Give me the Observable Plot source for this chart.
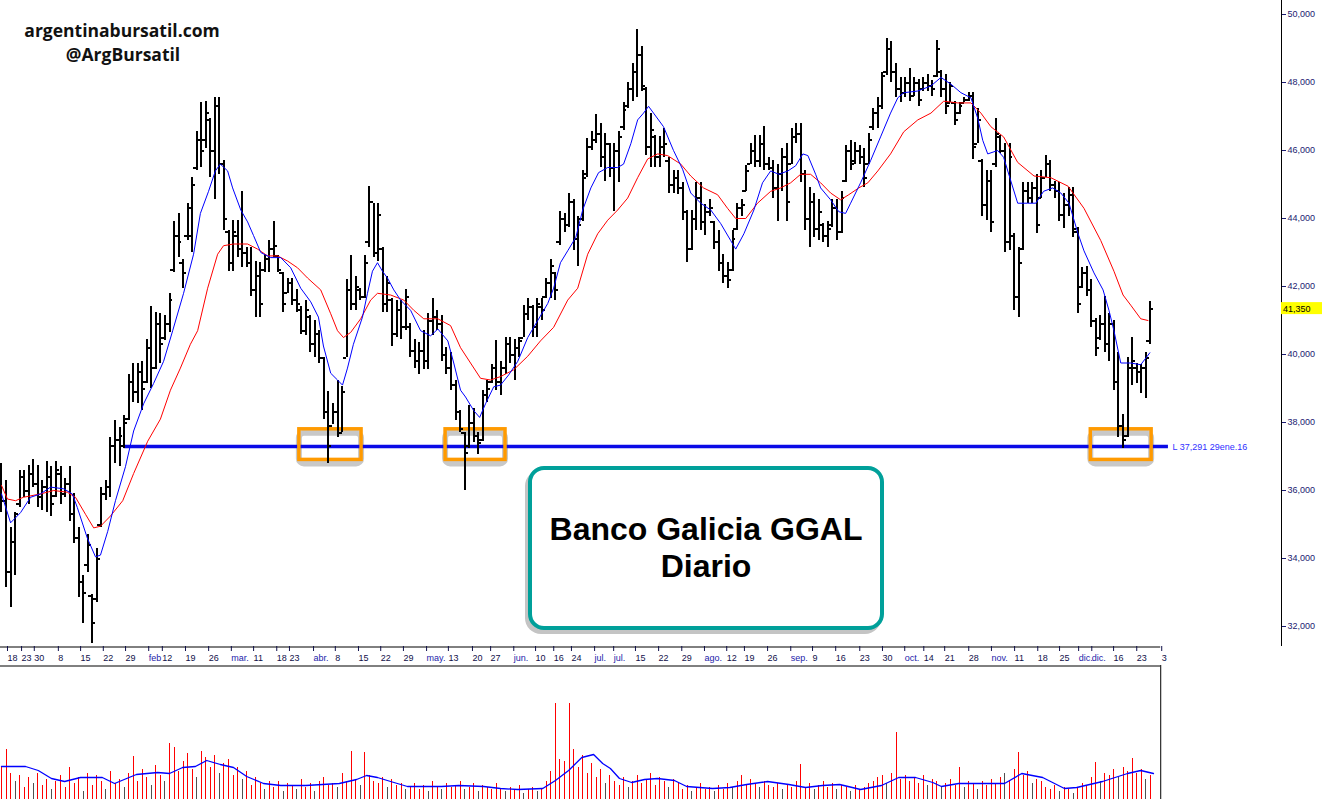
<!DOCTYPE html>
<html><head><meta charset="utf-8">
<script src="https://cdn.jsdelivr.net/npm/d3@7"></script>
<script src="https://cdn.jsdelivr.net/npm/@observablehq/plot@0.6"></script>
<style>
body{margin:0;background:#fff;}
#wrap{position:relative;width:1322px;height:799px;overflow:hidden;}
#price,#vol{line-height:0}
.wm{position:absolute;font-family:"Open Sans",sans-serif;font-weight:700;color:#111;font-size:17.5px;white-space:nowrap;transform:translate(-50%,-50%);line-height:1}
#wm1{left:122px;top:31px}
#wm2{left:123px;top:55px}
#tbox{position:absolute;left:528px;top:466px;width:356px;height:164px;box-sizing:border-box;border:4px solid #00a09a;border-radius:16px;background:#fff;box-shadow:-3px 4px 0 #c4c4c4;display:flex;flex-direction:column;justify-content:center;align-items:center;font-family:"Liberation Sans",Arial,sans-serif;font-weight:700;font-size:32px;line-height:37px;color:#000;}
</style></head><body>
<div id="wrap"><div id="price"></div><div id="vol"></div>
<div class="wm" id="wm1">argentinabursatil.com</div><div class="wm" id="wm2">@ArgBursatil</div>
<div id="tbox"><div>Banco Galicia GGAL</div><div>Diario</div></div></div>
<script>
// ---- daily OHLC (bar index 0..253) ----
const highs = [
36800,36300,34900,35350,36600,36600,36750,36900,36750,36300,
36850,36700,36850,36700,36350,36700,35900,34900,33500,34700,
32950,34300,36100,36300,37550,38050,37850,38200,39400,39750,
39750,39800,40450,41400,41250,41200,41150,41800,43900,44150,
42800,44450,45200,46550,47400,47450,46950,47550,47550,45700,
43650,43950,43950,44800,43150,43150,42750,42700,42950,43350,
43900,42900,42400,42250,42250,41900,
41400,41600,41150,41000,40700,39900,38900,38550,39250,39050,
42200,42900,42300,41950,42900,44950,44450,44450,43150,42300,
41650,41600,41600,41900,40900,40450,40350,40700,41200,41650,
41300,41150,40200,40050,39250,38350,37700,38500,
38400,37700,38950,39250,39700,40400,39800,40500,40500,40450,
40500,41450,41650,41450,41650,41650,42250,42800,42400,44200,
44150,44750,44550,44050,45400,46350,46550,47050,46800,46500,
46200,46200,46550,47400,48000,48550,49550,49050,47850,47100,
46450,46400,46650,45800,45400,45400,45050,44250,44250,45050,
45050,44400,44550,43900,43650,42950,42700,43650,44450,44550,
45550,46200,46450,46450,46700,45800,45700,45600,46050,46200,
46650,46800,46800,45400,44900,44750,44550,43850,43900,44550,
44550,44800,46150,46300,46250,46150,46050,46500,47250,47550,
48300,49300,49200,48550,48150,48150,48400,48150,48100,48150,
48250,48050,49250,48350,48250,48000,47450,47400,47550,47700,
47700,47250,45750,45400,45400,46950,46450,46200,46200,43550,
43150,45050,45050,45050,45300,45400,45850,45700,45100,45050,
44750,44900,44900,43750,42550,42600,42200,41050,41150,41700,
41200,41000,40050,38250,39900,40500,39750,39700,40050,41550];
const lows = [
35350,33150,32550,33500,35500,35800,35600,36100,35500,35400,
35350,35250,35800,35600,35800,35100,34450,32850,32100,33600,
31500,32700,34900,35700,35800,36800,36700,37250,38050,38600,
38550,38350,39150,39000,39550,39750,40400,40650,42400,42850,
41950,43350,43000,45400,45500,46050,45200,44550,45300,43650,
42450,42450,42850,42550,42550,41700,41100,41100,42400,42400,
42850,42400,41250,41800,41450,41250,
40600,40550,40050,39900,39750,38100,36800,37950,37550,37700,
39900,41300,41300,41600,41650,43150,42850,42750,41250,41250,
40250,40500,40450,40700,39900,39600,39400,39550,39550,40550,
40700,39800,39400,38950,38050,37700,36000,37250,
37400,37050,37450,38600,39150,38950,38800,39400,39750,39250,
39900,40500,41000,40500,40500,41000,41650,41650,41600,43200,
43600,43750,43050,42600,43900,45200,46000,46200,45500,45100,
45200,44200,45050,46600,47250,47450,47550,47750,45850,45500,
45500,45500,45800,44750,44750,44700,43950,42700,43050,43650,
43650,43500,44050,43100,42450,42100,41950,42450,43650,44050,
44800,45600,45500,45500,45400,45400,44600,43900,44800,43900,
45600,46200,45050,43650,43150,43450,43350,43300,43150,43750,
43350,43550,45050,45400,45600,45600,44900,45600,46600,46650,
47200,48200,48000,47550,47400,47550,47450,47600,47300,47750,
47750,47600,48150,47550,47050,47400,46750,47050,47400,47450,
45750,46200,44050,43950,43600,45500,45900,43000,43050,41300,
41100,43050,44450,44450,43550,44600,45200,44800,44600,43900,
43700,44050,43450,41200,41950,41700,40800,39950,40400,40050,
39800,38950,37550,37250,37550,39100,39150,38850,38700,40300];
const opens = [
36400,35700,33600,34500,35600,36400,36000,36500,36200,35800,
36100,36400,35850,36500,35900,36200,35300,34600,33300,33800,
32900,32800,35000,35900,36100,37300,37500,37300,38100,39200,
38900,39500,39200,40200,39600,40900,40500,40900,42500,43500,
42700,43500,43500,45500,46300,46300,46900,46000,47300,45600,
43600,42700,43500,43100,43000,42700,41900,42300,42500,42800,
43100,42900,42400,41800,42100,41600,
41300,40700,41100,40300,40600,39900,38300,37900,38300,37700,
39900,41900,41500,41900,41700,43300,44500,43000,43100,41500,
41600,40600,41300,40800,40800,40100,39800,40100,39800,41000,
41100,40900,40000,39600,39100,38300,37700,37300,
38000,37600,37500,38800,39200,39600,39200,39600,40300,40000,
40200,40500,41200,41400,40800,41400,41700,42100,42400,43300,
44000,43800,44500,43400,44000,45300,46100,46300,46500,45800,
46200,45500,46000,46700,47300,47800,48300,48800,47800,46100,
46400,45800,46100,45700,45000,45200,44900,44200,43100,44000,
44600,43900,44200,43900,43300,42700,42300,42500,43700,44300,
44800,45600,46000,45700,46200,45600,45500,44900,45300,45800,
45600,46400,46500,45300,44000,44500,43700,43800,43500,43800,
44300,43600,45100,46000,45700,46000,45800,45600,46700,47100,
47300,48300,49000,48300,47800,47700,48000,47600,48000,47800,
48000,47900,48200,48300,47800,47400,47400,47100,47400,47500,
47600,46200,45700,44400,45100,45600,46400,46000,43300,43500,
41700,43100,44800,44600,44900,44600,45200,45600,45000,44800,
44100,44400,44700,43600,42000,42400,41900,41000,40500,40900,
40300,40900,39200,37900,37600,39600,39600,39500,39600,40400];
const closes = [
35700,33600,34500,35300,36400,36000,36500,36200,35800,36100,
36400,35600,36600,35900,36200,35300,34600,33300,33000,34400,
32100,34000,35900,36100,37300,37500,37600,38000,39200,38900,
39500,39000,40200,39600,40900,40300,40900,41600,43500,43300,
42400,44300,45000,46300,46000,47100,46000,47300,45600,44000,
42700,43600,43100,43000,42700,41900,42300,41500,42800,43100,
43200,42500,41500,42100,41600,41500,
40700,41300,40300,40600,39900,38300,37300,38300,37700,38900,
41900,41500,42000,41700,42700,44500,43000,44100,41500,42100,
40600,41300,40800,41700,40100,39800,40100,39800,41000,41100,
40900,40000,39600,39100,38300,37800,37100,38000,
37600,37400,38800,39000,39600,39200,39600,40300,40000,40200,
40400,41200,41400,40800,41500,41300,42100,42600,41900,44000,
43800,44500,43400,43800,45200,46100,46300,46500,45800,46200,
45500,46000,46400,47200,47800,48300,48800,47900,46100,46600,
45800,46100,46200,45000,45200,44900,44200,43100,44000,44600,
43900,44200,44300,43300,42700,42300,42200,43400,44300,44400,
45400,46000,45700,46200,45600,45500,44900,45300,45800,44500,
46400,46500,45300,44000,44500,43700,44200,43500,43700,44300,
43600,44600,46000,45600,46000,45800,45200,46300,47100,47300,
48200,49000,48300,47800,47700,48000,47600,48000,47500,48000,
47900,47800,49000,47800,47300,47900,46900,47300,47500,47600,
46100,46900,44400,45100,43900,46500,46000,43300,45800,41700,
42700,44800,44600,44900,43800,45200,45600,45000,44800,44100,
44400,44700,43700,41500,42400,41900,41000,40200,40900,40300,
40900,39200,37900,37500,39600,39800,39500,39600,39900,41350];
// volume (millions) and bars shown dark
const volume = [
1.6,2.5,1.3,0.9,1.2,0.6,1.1,0.8,1.3,0.7,
1.0,0.5,0.9,1.2,0.6,1.6,0.8,1.1,0.4,1.3,
0.7,1.2,0.9,0.5,1.4,0.8,1.0,0.6,1.3,2.15,
0.9,1.5,1.1,0.7,1.7,1.2,0.9,2.8,2.6,1.4,
1.9,2.3,1.5,1.1,2.4,2.1,1.6,2.2,1.3,1.8,
2.0,1.2,1.6,1.0,1.4,0.7,1.1,0.8,0.5,0.9,
0.6,0.9,0.4,0.8,0.7,0.5,1.0,0.6,0.8,0.4,
0.9,1.1,0.7,0.8,0.6,1.3,0.9,2.4,1.0,0.7,
2.35,1.2,0.9,0.8,1.1,0.6,1.0,0.7,0.8,0.5,
0.6,0.8,0.5,0.7,0.4,0.9,0.6,0.5,0.8,0.6,
0.7,0.9,0.5,0.6,0.8,0.4,0.7,0.6,0.5,0.8,
0.5,0.4,0.6,0.5,0.7,0.3,0.5,0.6,0.4,0.5,
0.9,1.4,4.8,2.0,1.9,4.8,2.5,1.6,2.2,1.3,
1.8,1.1,1.5,0.8,1.2,0.9,0.7,1.1,0.6,0.9,
1.2,0.8,1.0,1.3,0.7,1.1,0.9,0.6,1.0,0.8,
0.5,0.7,0.4,0.6,0.8,0.5,0.6,0.4,0.7,0.5,
0.8,0.6,0.9,1.2,0.7,1.0,0.8,0.6,0.9,0.7,
0.6,0.8,0.5,0.7,0.6,0.9,1.75,0.6,0.8,0.5,
0.7,0.9,0.6,0.8,0.5,0.7,0.6,0.4,0.7,0.5,
0.6,0.8,0.9,1.1,1.2,0.8,1.3,3.35,1.0,1.2,
0.9,1.1,0.8,1.2,0.7,1.0,0.9,0.6,0.8,1.0,
0.7,1.6,0.6,0.9,0.8,0.5,0.9,0.7,1.0,0.8,
1.1,1.3,0.9,1.5,2.35,1.2,1.4,0.8,1.0,0.9,
0.6,0.5,0.7,0.4,0.6,0.5,0.3,0.6,0.8,0.7,
1.1,1.85,0.9,1.3,1.2,1.5,1.1,1.6,1.4,2.05,
1.3,1.5,1.0,1.2];
const darkVolumeBars = [3,7,11,18,23,27,33,36,43,48,53,58,62,65,69,74,79,85,89,94,97,102,105,111,115,118,133,138,147,152,157,161,167,172,179,184,187,195,204,207,212,215,221,227,233,236,242,246,252];
// moving averages: [bar index, value]
const fastMA = [[0,35900],[2.0,35050],[4.2,35350],[6.4,35800],[8.6,35900],[10.8,36100],[13.7,36050],[15.6,35900],[16.7,35500],[18.9,34600],[20.7,34050],[21.8,34100],[23.4,34800],[25.1,35700],[27.3,36700],[29.1,37750],[31.3,38550],[33.5,39150],[35.7,39800],[37.7,40700],[40.1,41800],[42.3,42950],[43.8,44150],[45.6,44800],[47.1,45400],[48.2,45600],[49.8,45400],[50.9,44900],[52.7,44250],[54.2,43900],[55.5,43500],[57.1,43000],[59.3,42850],[61.5,42850],[63.7,42550],[65.9,41950],[68.1,41550],[69.8,41100],[70.9,40250],[72.5,39450],[74.0,39250],[75.1,39100],[76.2,39600],[77.5,40300],[79.5,41100],[80.6,41800],[81.7,42450],[82.8,42700],[83.9,42450],[85.0,42250],[86.4,41900],[87.9,41600],[90.1,41300],[92.3,40700],[94.5,40550],[96.1,40750],[98.3,40400],[99.6,39750],[101.1,38950],[102.2,38750],[104.0,38350],[105.3,38150],[106.6,38550],[108.4,39050],[109.9,39100],[111.7,39400],[113.7,39800],[115.9,40500],[118.1,41000],[120.3,41500],[121.6,41950],[123.1,42700],[124.7,43050],[126.5,43450],[128.0,44250],[129.8,44900],[131.5,45350],[133.5,45500],[135.7,45500],[137.0,45600],[138.6,46200],[140.1,46900],[141.4,47100],[142.5,47300],[143.6,47100],[145.8,46700],[148.0,46000],[150.0,45450],[151.8,44750],[154.0,44450],[156.2,44250],[158.4,43850],[160.6,43350],[161.7,43100],[163.5,43550],[165.7,44250],[167.6,45050],[169.4,45400],[171.2,45300],[173.2,45400],[174.9,45550],[176.5,45900],[177.6,45850],[179.3,45300],[180.4,44900],[182.6,44550],[184.4,44200],[185.9,44150],[187.0,44450],[189.2,45050],[191.4,45700],[193.6,46400],[195.8,47100],[197.4,47550],[198.7,47700],[201.8,47750],[204.7,47900],[206.9,48150],[209.1,47950],[211.3,47700],[213.5,47550],[215.0,46950],[216.1,46300],[217.2,45900],[219.4,46000],[220.7,45800],[222.3,45100],[223.8,44450],[226.0,44450],[227.8,44450],[229.5,44800],[231.5,44900],[233.3,44750],[235.1,44450],[237.1,43550],[238.4,43050],[240.6,42400],[242.6,41900],[243.9,41300],[245.0,40700],[246.5,39750],[248.7,39750],[250.9,39700],[252.9,40050]];
const slowMA = [[0,36150],[1.3,35750],[3.1,35700],[4.8,35800],[8.6,35900],[11.5,36000],[14.5,35950],[16.3,35800],[18.5,35300],[20.3,34900],[21.8,34950],[24.0,35250],[26.7,35700],[29.1,36500],[32.2,37450],[35.0,38100],[37.2,38950],[39.4,39600],[41.6,40300],[43.2,40700],[45.4,41950],[47.6,42950],[48.9,43200],[51.1,43250],[54.2,43250],[56.4,43100],[58.6,42900],[60.8,42900],[63.0,42750],[65.2,42550],[67.4,42250],[70.3,41900],[72.5,41200],[74.0,40700],[75.3,40500],[76.9,40650],[79.1,41050],[81.3,41600],[82.8,41800],[85.7,41750],[88.6,41600],[90.8,41300],[93.0,41050],[96.1,41050],[98.9,40850],[101.1,40200],[103.3,39750],[105.5,39300],[107.7,39250],[109.9,39350],[112.8,39550],[115.9,39950],[118.7,40400],[121.6,40800],[124.7,41600],[126.9,41950],[129.1,42950],[131.3,43550],[133.5,43950],[135.7,44250],[137.9,44600],[140.1,45200],[142.3,45750],[144.5,45900],[146.7,45850],[149.6,45600],[151.8,45250],[154.6,44900],[157.7,44700],[159.9,44300],[161.7,44000],[163.9,44000],[166.5,44450],[169.4,44800],[171.6,44900],[173.8,45050],[176.0,45300],[178.2,45300],[180.4,45050],[182.6,44750],[184.8,44550],[186.6,44700],[188.8,44900],[190.8,45050],[193.0,45400],[195.8,45900],[198.7,46550],[201.8,46900],[204.7,47100],[207.5,47450],[210.6,47400],[213.5,47400],[215.7,47100],[217.9,46700],[220.7,46400],[223.8,45650],[227.4,45250],[231.1,45200],[234.9,44950],[238.4,44300],[242.1,43350],[245.0,42450],[247.0,41750],[248.7,41450],[250.9,41050],[252.5,41000]];
const volumeMA = [[0,1.65],[5.3,1.65],[8.1,1.45],[11.0,1.05],[13.9,0.9],[17.4,1.1],[22.2,1.1],[24.9,0.8],[29.7,1.25],[34.4,1.35],[37.0,1.3],[39.9,1.6],[42.7,1.65],[45.2,1.95],[48.2,1.75],[51.1,1.6],[54.0,1.15],[57.7,0.8],[61.5,0.7],[67.0,0.7],[70.7,0.75],[74.4,0.8],[78.2,1.0],[80.4,1.2],[82.8,1.1],[85.7,0.9],[89.4,0.65],[96.9,0.65],[100.7,0.7],[106.2,0.65],[109.9,0.55],[113.7,0.5],[119.2,0.55],[122.0,0.95],[124.9,1.45],[127.8,2.1],[130.4,2.25],[132.4,1.8],[134.1,1.55],[136.1,1.05],[138.8,0.85],[141.6,1.0],[144.5,1.05],[148.2,0.95],[150.9,0.65],[156.6,0.55],[160.4,0.6],[164.1,0.75],[168.7,0.9],[173.4,0.75],[177.1,0.6],[180.8,0.7],[184.6,0.75],[189.2,0.5],[193.8,0.7],[197.6,1.1],[201.3,1.1],[205.1,0.85],[207.0,0.65],[210.8,0.8],[216.3,0.8],[220.9,0.8],[224.7,1.3],[229.3,1.1],[234.1,0.55],[236.8,0.6],[242.5,0.9],[248.0,1.3],[250.9,1.45],[253.7,1.3]];
// x-axis tick labels (position in bar index)
const tickPos = [1.1,4.2,7.0,12.3,17.2,22.2,27.1,32.2,35.2,40.3,45.4,50.4,55.3,60.4,63.2,68.5,73.3,78.4,83.3,88.3,93.4,98.2,103.5,107.5,112.6,117.4,121.4,125.3,130.4,134.6,139.4,144.5,149.6,154.6,159.5,163.4,168.5,173.6,178.4,183.5,188.8,193.8,198.7,202.9,207.5,212.8,217.8,222.9,228.0,232.8,237.0,239.9,244.7,249.8,255.3];
const tickLabels = ["18","23","30","8","15","22","29","feb","12","19","26","mar.","11","18","23","abr.","8","15","22","29","may.","13","20","27","jun.","10","16","24","jul.","jul.","15","22","29","ago.","12","19","26","sep.","9","16","23","30","oct.","14","21","28","nov.","11","18","25","dic.","dic.","16","23","3"];
const yTicks = [32000,34000,36000,38000,40000,42000,44000,46000,48000,50000];
// support line and highlighted zones
const support = 37291;
const supportFrom = 27;
const supportLabel = "L 37,291 29ene.16";
const boxStart = [65.6, 97.8, 239.9];
const boxEnd = [79.3, 111.0, 253.3];
const boxTop = 37800, boxBottom = 36900;
const lastPrice = 41350;

const X_DOMAIN = [-0.22, 281.9];
const Y_DOMAIN = [31412, 50412];
const bars = highs.map((h, i) => ({i, high: h, low: lows[i], open: opens[i], close: closes[i]}));
const boxes = boxStart.map((s, i) => ({s, e: boxEnd[i], top: boxTop, bottom: boxBottom}));
const labelMap = new Map(tickPos.map((p, i) => [p, tickLabels[i]]));
const lastTick = tickPos[tickPos.length - 1];
const TW = 0.75;

const price = Plot.plot({
  width: 1322, height: 665,
  marginLeft: 0, marginRight: 41, marginTop: 0, marginBottom: 19,
  x: {domain: X_DOMAIN, axis: null},
  y: {domain: Y_DOMAIN, axis: null},
  style: {fontFamily: "Liberation Sans, Arial, sans-serif", fontSize: "9px", background: "#fff", color: "#000"},
  marks: [
    Plot.rect(boxes, {x1: "s", x2: "e", y1: "bottom", y2: "top", fill: "none", stroke: "#c8c8c8", strokeWidth: 6, rx: 5, dx: 0, dy: 4}),
    Plot.ruleY([support], {x1: supportFrom, x2: 257, stroke: "#0a0ae6", strokeWidth: 3.5}),
    Plot.rect(boxes, {x1: "s", x2: "e", y1: "bottom", y2: "top", fill: "none", stroke: "#ff9a00", strokeWidth: 3.5}),
    Plot.ruleX(bars, {x: "i", y1: "low", y2: "high", stroke: "#000", strokeWidth: 2, shapeRendering: "crispEdges"}),
    Plot.ruleY(bars, {y: "open", x1: d => d.i - TW, x2: "i", stroke: "#000", strokeWidth: 2, shapeRendering: "crispEdges"}),
    Plot.ruleY(bars, {y: "close", x1: "i", x2: d => d.i + TW, stroke: "#000", strokeWidth: 2, shapeRendering: "crispEdges"}),
    Plot.line(slowMA, {x: d => d[0], y: d => d[1], stroke: "#ff0000", strokeWidth: 1}),
    Plot.line(fastMA, {x: d => d[0], y: d => d[1], stroke: "#0000ff", strokeWidth: 1}),
    Plot.text([supportLabel], {x: 257.9, y: support, text: d => d, textAnchor: "start", fill: "#3030ff", fontSize: 9}),
    Plot.ruleX([X_DOMAIN[1]], {y1: Y_DOMAIN[0], y2: Y_DOMAIN[1], stroke: "#000"}),
    Plot.ruleY([Y_DOMAIN[0]], {x1: X_DOMAIN[0], x2: lastTick, stroke: "#000", dy: 0.5}),
    Plot.axisY(yTicks, {anchor: "right", tickSize: 4, tickPadding: 2, tickFormat: d3.format(","), fontSize: 9, color: "#1a1a70"}),
    Plot.axisX(tickPos, {anchor: "bottom", tickSize: 5, tickPadding: 3, tickFormat: p => labelMap.get(p), textAnchor: "start", dx: 1, fontSize: 9, color: "#10104a"})
  ]
});

// last-price flag on the axis
const ySc = price.scale("y");
const yy = ySc.apply(lastPrice);
const sel = d3.select(price);
sel.append("rect").attr("x", 1281).attr("y", yy - 6).attr("width", 41).attr("height", 12).attr("fill", "#ffff00");
sel.append("text").attr("x", 1283).attr("y", yy + 3.5).attr("text-anchor", "start").attr("font-size", 9).attr("fill", "#000").attr("font-family", "Liberation Sans, Arial").text(d3.format(",")(lastPrice));
const months = new Set(["feb","mar.","abr.","may.","jun.","jul.","ago.","sep.","oct.","nov.","dic."]);
sel.selectAll("text").filter(function(){ return months.has(this.textContent); }).attr("fill", "#2222aa");
document.getElementById("price").appendChild(price);

const volData = volume.map((v, i) => ({i, v}));
const dark = new Set(darkVolumeBars);
const VOL_TOP = 6.7;
const vol = Plot.plot({
  width: 1322, height: 134,
  marginLeft: 0, marginRight: 41, marginTop: 0, marginBottom: 0,
  x: {domain: X_DOMAIN, axis: null},
  y: {domain: [0, VOL_TOP], axis: null},
  color: {type: "identity"},
  style: {background: "#fff"},
  marks: [
    Plot.ruleX(volData, {x: "i", y1: 0, y2: "v", stroke: d => dark.has(d.i) ? "#505050" : "#ff0000", strokeWidth: 1, shapeRendering: "crispEdges"}),
    Plot.line(volumeMA, {x: d => d[0], y: d => d[1], stroke: "#0000ff", strokeWidth: 1.3}),
    Plot.ruleY([VOL_TOP], {x1: X_DOMAIN[0], x2: lastTick, stroke: "#000", dy: 0.5}),
    Plot.ruleX([lastTick], {y1: 0, y2: VOL_TOP, stroke: "#000"})
  ]
});
document.getElementById("vol").appendChild(vol);
</script>
</body></html>
